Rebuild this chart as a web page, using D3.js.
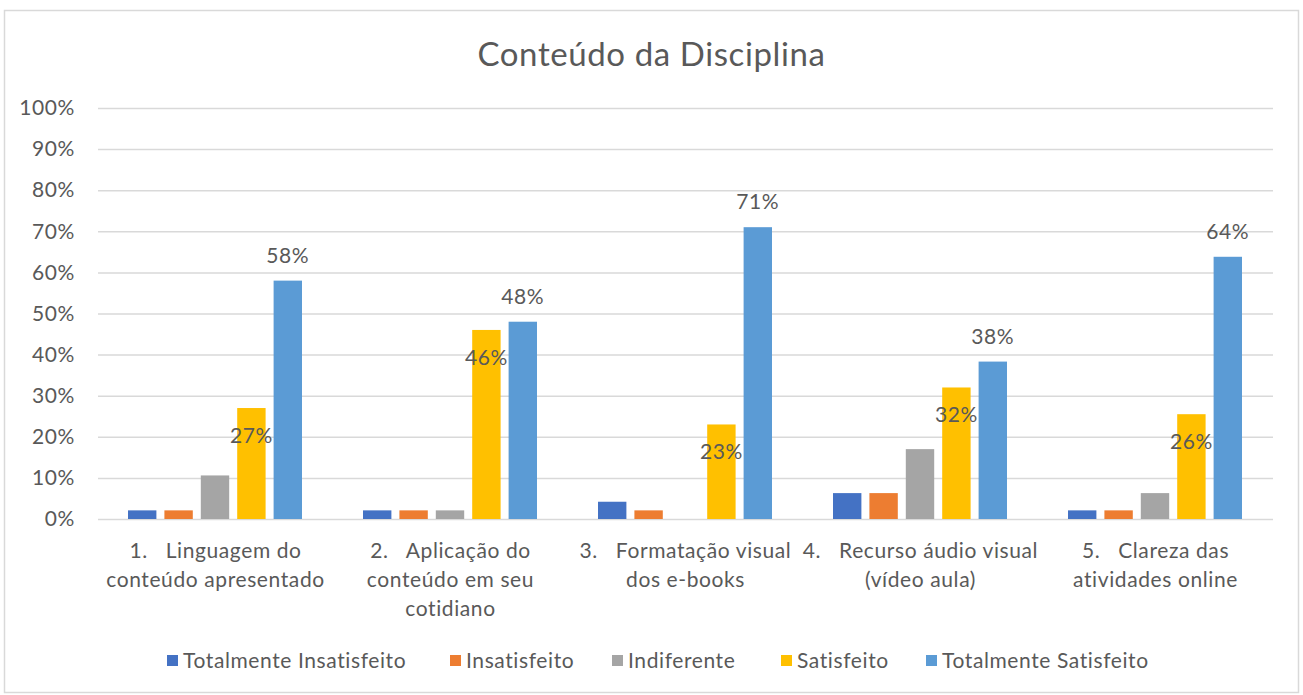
<!DOCTYPE html>
<html>
<head>
<meta charset="utf-8">
<script src="https://cdn.jsdelivr.net/npm/d3@7"></script>
<style>
  body { margin: 0; background: #fff; }
  text { font-family: Lato, "Open Sans", sans-serif; fill: #595959; letter-spacing: 0.6px; white-space: pre; }
</style>
</head>
<body>
<script>
// data
var categories = [
    ["1.   Linguagem do", "conteúdo apresentado"],
    ["2.   Aplicação do", "conteúdo em seu", "cotidiano"],
    ["3.   Formatação visual", "dos e-books"],
    ["4.   Recurso áudio visual", "(vídeo aula)"],
    ["5.   Clareza das", "atividades online"]
];
var seriesNames = ["Totalmente Insatisfeito", "Insatisfeito", "Indiferente", "Satisfeito", "Totalmente Satisfeito"];
var totInsatisfeito = [2.1, 2.1, 4.2, 6.3, 2.1];
var insatisfeito = [2.1, 2.1, 2.1, 6.3, 2.1];
var indiferente = [10.6, 2.1, 0, 17, 6.3];
var satisfeito = [27, 46, 23, 32, 25.5];
var totSatisfeito = [58, 48, 71, 38.3, 63.8];
var yTicks = [0, 10, 20, 30, 40, 50, 60, 70, 80, 90, 100];
var colors = ["#4472C4", "#ED7D31", "#A5A5A5", "#FFC000", "#5B9BD5"];

var series = [totInsatisfeito, insatisfeito, indiferente, satisfeito, totSatisfeito];

var svgWidth = 1303, svgHeight = 695;
var margin = {top: 108, right: 30, bottom: 176, left: 98};
var width = svgWidth - margin.left - margin.right;
var height = svgHeight - margin.top - margin.bottom;

var svg = d3.select("body").append("svg")
    .attr("width", svgWidth)
    .attr("height", svgHeight);

// outer border
svg.append("rect")
    .attr("x", 4.5).attr("y", 10.5)
    .attr("width", 1294).attr("height", 682)
    .attr("fill", "none")
    .attr("stroke", "#d9d9d9")
    .attr("stroke-width", 1.5);

svg.append("text")
    .attr("x", svgWidth / 2)
    .attr("y", 66)
    .attr("text-anchor", "middle")
    .style("font-size", "33px")
    .text("Conteúdo da Disciplina");

var chartGroup = svg.append("g").attr("transform", `translate(${margin.left}, ${margin.top})`);

var x0 = d3.scaleBand()
    .domain(d3.range(categories.length))
    .range([0, width])
    .paddingInner(0)
    .paddingOuter(0);

var x1 = d3.scaleBand()
    .domain(d3.range(series.length))
    .range([30, x0.bandwidth() - 31])
    .paddingInner(0.22);

var y = d3.scaleLinear().domain([0, 100]).range([height, 0]);

// gridlines + y labels
var yAxis = d3.axisLeft(y)
    .tickValues(yTicks)
    .tickSize(-width)
    .tickPadding(23)
    .tickFormat(d => d + "%");

var yg = chartGroup.append("g").call(yAxis);
yg.select(".domain").remove();
yg.selectAll("line").attr("stroke", "#d9d9d9").attr("stroke-width", 1.5);
yg.selectAll("text").style("font-size", "21px").style("fill", "#595959").style("font-family", "Lato, sans-serif");

// bars
var groups = chartGroup.selectAll(".cat")
    .data(categories)
    .enter().append("g")
    .attr("transform", (d, i) => `translate(${x0(i)},0)`);

groups.selectAll("rect")
    .data((d, i) => series.map((s, j) => ({j: j, v: s[i]})))
    .enter().append("rect")
    .attr("x", d => x1(d.j))
    .attr("y", d => y(d.v))
    .attr("width", x1.bandwidth())
    .attr("height", d => height - y(d.v))
    .attr("fill", d => colors[d.j]);

// labels for Satisfeito (inside) and Totalmente Satisfeito (above)
groups.append("text")
    .attr("x", x1(3) + x1.bandwidth() / 2)
    .attr("y", (d, i) => y(satisfeito[i]) + 35)
    .attr("text-anchor", "middle")
    .style("font-size", "21px")
    .text((d, i) => Math.round(satisfeito[i]) + "%");

groups.append("text")
    .attr("x", x1(4) + x1.bandwidth() / 2)
    .attr("y", (d, i) => y(totSatisfeito[i]) - 18)
    .attr("text-anchor", "middle")
    .style("font-size", "21px")
    .text((d, i) => Math.round(totSatisfeito[i]) + "%");

// category labels
groups.append("text")
    .attr("text-anchor", "middle")
    .style("font-size", "21px")
    .selectAll("tspan")
    .data(d => d)
    .enter().append("tspan")
    .attr("x", x0.bandwidth() / 2)
    .attr("y", (d, k) => height + 39 + k * 29)
    .text(d => d);

// legend
var legendX = [167, 450, 612, 781, 926];
var legend = svg.append("g").attr("transform", "translate(0, 661)");
var items = legend.selectAll("g")
    .data(seriesNames)
    .enter().append("g")
    .attr("transform", (d, i) => `translate(${legendX[i]},0)`);
items.append("rect")
    .attr("x", 0).attr("y", -6)
    .attr("width", 11).attr("height", 11)
    .attr("fill", (d, i) => colors[i]);
items.append("text")
    .attr("x", 16)
    .attr("y", 7)
    .style("font-size", "21px")
    .text(d => d);
</script>
</body>
</html>
